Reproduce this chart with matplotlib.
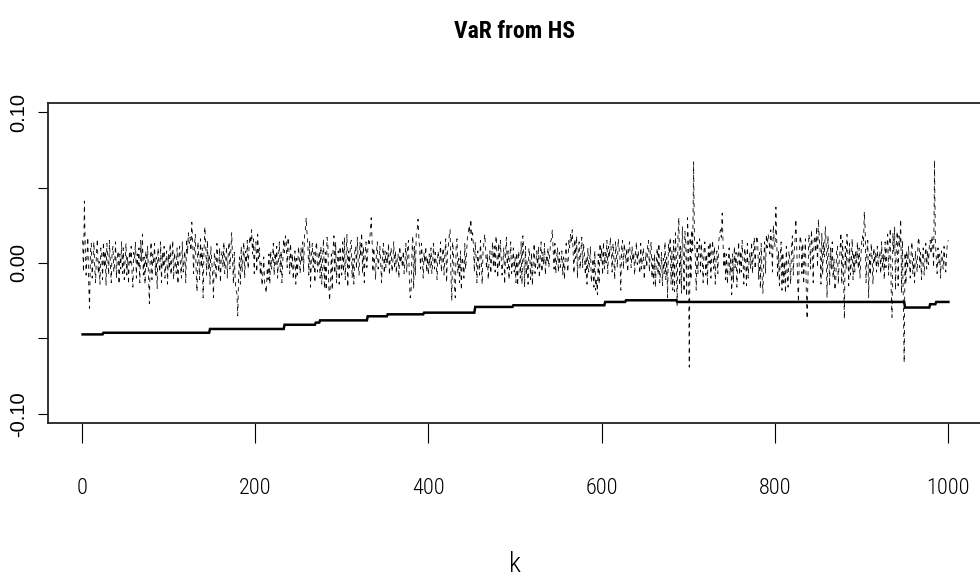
import numpy as np
import matplotlib
matplotlib.use("Agg")
import matplotlib.pyplot as plt

# daily returns, in thousandths
returns_permille = [
    15, -6, 41, 11, -8, 4, 17, -14, -30, 7, 13, -10, 3, 14, -4, -13, 8, 16, -7, 1, -14, 10, 6, -11, 14,
    -3, 8, -15, 13, 4, -8, 15, -1, -13, 7, 11, -6, 0, 14, -10, 3, 8, -14, 6, -4, 14, -7, 10, -11, 1,
    13, -8, 4, -14, 8, 0, 11, -6, -16, 7, 3, 14, -10, 6, -3, 10, -13, 15, 1, 19, -8, 4, -14, 8, -4,
    11, -7, -27, 3, 14, -11, 6, -1, 13, -8, 4, -17, 10, 0, -6, 14, -13, 7, -3, 11, -10, 1, 8, -14, 6,
    -4, 13, -8, 3, 15, -11, 7, 0, -7, 10, -14, 4, 11, -3, -10, 14, -6, 1, 8, -13, 16, 6, 20, 13, 17,
    8, 27, 14, -7, 11, 19, -6, -19, 14, 4, -11, 16, -3, 10, -23, 7, 24, 13, -8, 15, -4, 6, -14, 11, 1,
    -8, -23, 7, 3, -11, 13, 0, -6, 10, -13, 4, 8, -3, 14, -7, 1, 11, -10, 6, 14, -4, 8, 20, 3, -14,
    7, -11, -18, -20, -35, -8, 4, -14, 11, -6, 3, 14, -10, 8, 0, 15, -4, 10, 18, 13, 22, 6, 16, -7, 11,
    14, -6, 19, 3, 10, -8, 0, -15, -7, 4, -13, -17, -20, -3, -11, 6, -14, 8, -4, 3, 13, -8, 7, -1, 11,
    -10, 4, 14, -6, 8, -13, 1, 16, 7, 18, 14, -3, 17, 10, -7, 13, -4, 6, -11, 0, 8, -14, 3, -8, 11,
    4, -7, 10, 0, 14, -6, 19, 22, 30, 19, 11, -8, 15, -16, 4, 13, -3, 7, -13, 10, 14, -6, 0, 8, -10,
    11, -14, 4, 16, -17, 7, -18, 17, 13, -15, -25, -11, 6, -18, 10, 18, -7, 14, -13, 3, 8, -14, 11, 0, -8,
    14, -6, 17, -11, 4, 19, -16, 8, -3, 13, 15, -10, 3, -14, 7, 11, -4, 17, 0, -8, 14, 4, 20, -7, 11,
    -13, 6, 14, -3, 8, 16, 13, 21, 30, 15, -6, 10, 0, -11, 7, 14, -4, 3, 11, -1, -13, 6, 13, -7, 8,
    -3, 7, 0, 13, -8, 4, 10, -6, 1, 14, -4, 8, -7, 3, 6, -10, 11, 0, 4, -3, 8, -7, 1, 13, -6,
    10, 15, -11, -23, -18, 7, 18, -17, 11, -8, 20, 22, 29, 17, 8, -4, 13, 3, -10, 7, 0, 11, -6, 4, -8,
    6, -3, 10, -7, 1, 13, -4, 7, 0, -11, 8, 4, -1, 14, -6, 3, 10, -8, 6, 16, -13, 7, 11, 18, 22,
    -8, -25, 14, 6, -15, -23, 11, 16, -7, 3, -13, 8, -18, 4, 0, -10, 13, -4, 7, 17, 19, 25, 19, 29, 15,
    20, 11, -6, 14, 4, -13, 8, 0, -8, 15, 3, -14, 7, 13, 19, 10, -4, 6, -11, 1, 8, -7, 4, 14, -3,
    11, -6, 18, 7, -10, 13, -3, 15, 4, -8, 1, 10, -14, 6, 17, -4, 8, -11, 3, 14, -7, 0, 10, -6, 4,
    -13, 7, -15, 8, 3, -10, 14, -14, 18, 6, -16, 11, -8, 1, -14, 10, 4, -11, 7, -15, 3, 13, -7, 0, 8,
    -4, 11, -10, 3, 14, -6, 7, -1, 13, -8, 4, 0, 10, -3, 6, 14, 16, 22, 8, -4, 13, -7, 3, 10, -6,
    7, -3, 0, 8, -8, 4, -11, 6, 13, 1, -6, 15, 10, 19, 14, 22, 7, -7, 16, 3, 18, -10, 11, 14, -4,
    8, 17, -3, 13, 6, -8, 4, -14, 10, -6, 1, 11, -13, -7, 3, -16, 8, -18, -11, -21, 6, -14, 13, 1, 10,
    -8, 14, -4, 7, 0, 15, -7, 11, 4, 17, 8, -6, 13, 3, -11, 14, 6, -3, 16, 10, 4, -18, 11, 15, -4,
    13, 7, 0, 10, -6, 8, 14, 4, -3, 11, 1, 7, -8, 6, 14, -1, 8, 3, -7, 13, -4, 4, 10, -11, 0,
    7, -3, 11, 15, -6, 8, 14, -10, 3, -14, 6, -16, 1, 10, -8, 13, -13, -4, 7, -15, 3, -7, 14, -11, 4,
    -23, 13, 6, 17, -14, 8, -18, 15, -19, 20, 4, -28, 18, 30, -15, 11, -20, 24, 7, -19, 21, 13, -22, 30, 14,
    -69, 17, -11, 22, 8, 67, 15, 4, -18, 14, -7, 10, 16, -6, 13, 3, -13, 8, 14, -8, 6, -15, 11, 0, 14,
    -10, 7, 15, -4, 11, -14, 4, 8, -7, 14, 19, 22, 17, 33, 13, -3, 8, -11, 6, -14, 1, 10, -8, 4, -21,
    6, -13, 11, -3, 7, -16, 3, 14, -8, 8, -6, 15, 0, -14, 10, 4, -15, 13, -10, 1, 7, -4, 14, -7, 8,
    17, -4, 11, 18, 14, -11, 7, -17, 13, -8, -20, 3, 14, -7, 19, 10, 19, 16, 6, 22, 14, -6, 25, 15, 11,
    37, 13, -10, 8, -15, 4, 14, -18, 7, -13, 1, -20, 11, -6, -16, 8, 3, -14, 10, 18, -8, 6, 15, 29, 11,
    -11, -26, 7, 18, 14, -7, 13, -14, 3, 16, -17, -37, -8, 19, 14, -4, 22, 10, -13, 15, 18, 7, 24, -3, 29,
    17, 8, -14, 20, -8, 14, 4, 24, 13, -23, 18, 6, -15, 10, -4, 14, -10, 3, -18, -13, 7, 11, -14, 1, 8,
    20, -14, 15, -7, -37, 11, -4, 19, 6, -15, 13, -8, 1, 16, -11, 7, -6, 8, 0, 14, -4, 10, -10, 4, 14,
    18, 11, 34, 22, -13, 8, 15, -23, 6, -8, 13, 3, -14, 10, 0, 7, -6, 11, -3, 4, 8, -7, 14, -4, 6,
    -11, 14, -3, 10, 19, -8, 13, 23, -18, -36, 20, 7, 24, -18, 14, 21, -15, 18, 11, 29, -20, 15, -25, -66, 7,
    -14, 8, -4, 11, 0, -10, 6, 14, -7, 3, -13, 8, 1, -6, 14, 17, -3, 7, -11, 4, 10, -8, 3, 13, -4,
    8, -1, 11, 15, 6, 18, 11, -3, 68, 14, 4, -7, 10, 0, 6, -10, 8, 3, -4, 11, 1, -6, 7, 14, 15,
]

# historical-simulation VaR: first day k of each level and the level itself
var_start_k = [1, 25, 148, 234, 270, 275, 330, 353, 395, 454, 498, 604, 628, 687, 950, 979, 986]
var_level = [-0.0473, -0.0462, -0.0437, -0.0409, -0.0395, -0.0380, -0.0353, -0.0340, -0.0329,
             -0.0291, -0.0280, -0.0258, -0.0247, -0.0258, -0.0295, -0.0273, -0.0258]

x_ticks = [0, 200, 400, 600, 800, 1000]
y_ticks = [-0.10, -0.05, 0.00, 0.05, 0.10]
y_tick_labels = ["-0.10", "", "0.00", "", "0.10"]

returns = np.array(returns_permille) / 1000.0
k = np.arange(1, len(returns) + 1)
run_lengths = np.diff(var_start_k + [len(returns) + 1])
var_hs = np.repeat(var_level, run_lengths)

narrow = ["Roboto Condensed", "DejaVu Sans"]
regular = ["Liberation Sans", "DejaVu Sans"]

fig = plt.figure(figsize=(9.8, 5.82), dpi=100)
ax = fig.add_axes([48 / 980, 1 - 423 / 582, (983 - 48) / 980, 320 / 582])

ax.plot(k, returns, color="black", lw=0.6, linestyle=(0, (5, 5)))
ax.plot(k, var_hs, color="black", lw=1.8, solid_joinstyle="miter")

ax.set_xlim(-38.96, 1039.96)
ax.set_ylim(-0.106, 0.106)

ax.set_xticks(x_ticks)
ax.set_xticklabels([str(t) for t in x_ticks], fontfamily=narrow,
                   fontstretch="condensed", fontweight="light", fontsize=16)
ax.set_yticks(y_ticks)
ax.set_yticklabels(y_tick_labels, fontfamily=regular, fontsize=14.5,
                   rotation=90, va="center")

ax.tick_params(axis="x", direction="out", length=14.4, width=0.8, pad=25, colors="black")
ax.tick_params(axis="y", direction="out", length=7.2, width=0.8, pad=7, colors="black")

for s in ax.spines.values():
    s.set_linewidth(1.3)
    s.set_color("#222222")

fig.text(515 / 980, 1 - 32 / 582, "VaR from HS", ha="center", va="center",
         fontfamily=narrow, fontstretch="condensed", fontweight="bold", fontsize=17)
fig.text(515 / 980, 1 - 565 / 582, "k", ha="center", va="center",
         fontfamily=narrow, fontstretch="condensed", fontweight="light", fontsize=20)

fig.savefig("out.png", dpi=100)
